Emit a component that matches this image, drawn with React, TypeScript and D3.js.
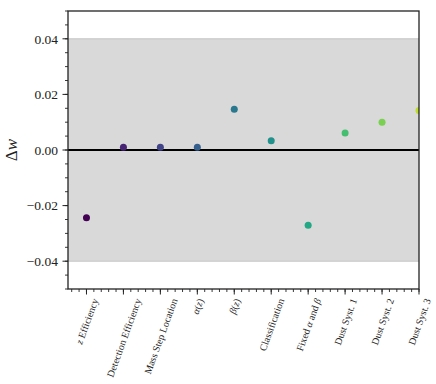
import React, { useRef, useEffect } from 'react';
import * as d3 from 'd3';

// categories (label parts: [text, italic])
const categories: [string, boolean][][] = [
  [['z', true], [' Efficiency', false]],
  [['Detection Efficiency', false]],
  [['Mass Step Location', false]],
  [['α', true], ['(', false], ['z', true], [')', false]],
  [['β', true], ['(', false], ['z', true], [')', false]],
  [['Classification', false]],
  [['Fixed ', false], ['α', true], [' and ', false], ['β', true]],
  [['Dust Syst. 1', false]],
  [['Dust Syst. 2', false]],
  [['Dust Syst. 3', false]],
];
const deltaW = [-0.0244, 0.001, 0.001, 0.001, 0.0147, 0.0033, -0.0271, 0.0061, 0.01, 0.0142];
const yMajorTicks = [-0.04, -0.02, 0, 0.02, 0.04];
const bandLimits = [-0.04, 0.04];

const W = 436;
const H = 384;
const FONT = "'Liberation Serif', 'DejaVu Serif', serif";

const App = () => {
  const ref = useRef<SVGSVGElement>(null);

  useEffect(() => {
    const svg = d3.select(ref.current);
    svg.selectAll('*').remove();

    const m = { left: 68, right: 17, top: 11, bottom: 95 };
    const x = d3.scaleLinear().domain([-0.5, 9]).range([m.left, W - m.right]);
    const y = d3.scaleLinear().domain([-0.05, 0.05]).range([H - m.bottom, m.top]);
    const [x0, x1] = x.range();
    const [yb, yt] = y.range();

    svg.append('defs').append('clipPath').attr('id', 'plotclip')
      .append('rect').attr('x', x0).attr('y', yt).attr('width', x1 - x0).attr('height', yb - yt);

    // shaded band
    svg.append('rect')
      .attr('x', x0).attr('width', x1 - x0)
      .attr('y', y(bandLimits[1])).attr('height', y(bandLimits[0]) - y(bandLimits[1]))
      .attr('fill', '#d9d9d9');
    bandLimits.forEach(v => {
      svg.append('line').attr('x1', x0).attr('x2', x1).attr('y1', y(v)).attr('y2', y(v))
        .attr('stroke', '#c4c4c4').attr('stroke-width', 1);
    });

    // zero line
    svg.append('line').attr('x1', x0).attr('x2', x1).attr('y1', y(0)).attr('y2', y(0))
      .attr('stroke', '#000').attr('stroke-width', 2);

    // points
    svg.append('g').attr('clip-path', 'url(#plotclip)')
      .selectAll('circle').data(deltaW).join('circle')
      .attr('cx', (d, i) => x(i)).attr('cy', d => y(d)).attr('r', 3.5)
      .attr('fill', (d, i) => d3.interpolateViridis(i / 10));

    // spines
    svg.append('rect').attr('x', x0).attr('y', yt).attr('width', x1 - x0).attr('height', yb - yt)
      .attr('fill', 'none').attr('stroke', '#222').attr('stroke-width', 1.3);

    // y ticks
    const yMinor = d3.range(-0.05, 0.0501, 0.005);
    svg.append('g').selectAll('line').data(yMinor).join('line')
      .attr('x1', x0).attr('x2', x0 - 3).attr('y1', d => y(d)).attr('y2', d => y(d))
      .attr('stroke', '#222').attr('stroke-width', 0.9);
    svg.append('g').selectAll('line').data(yMajorTicks).join('line')
      .attr('x1', x0).attr('x2', x0 - 5.5).attr('y1', d => y(d)).attr('y2', d => y(d))
      .attr('stroke', '#222').attr('stroke-width', 1);
    svg.append('g').selectAll('text').data(yMajorTicks).join('text')
      .attr('x', x0 - 10).attr('y', d => y(d)).attr('dy', '0.35em')
      .attr('text-anchor', 'end').style('font-family', FONT).attr('font-size', 13.5)
      .attr('fill', '#222')
      .text(d => (d < 0 ? '\u2212' : '') + Math.abs(d).toFixed(2));

    // y label
    const yl = svg.append('text')
      .attr('transform', `translate(17,${y(0)}) rotate(-90)`)
      .attr('text-anchor', 'middle').style('font-family', FONT).attr('font-size', 17)
      .attr('fill', '#222');
    yl.append('tspan').text('Δ');
    yl.append('tspan').attr('font-style', 'italic').text('w');

    // x ticks
    const xMinor = d3.range(-0.4, 9.01, 0.2);
    svg.append('g').selectAll('line').data(xMinor).join('line')
      .attr('x1', d => x(d)).attr('x2', d => x(d)).attr('y1', yb).attr('y2', yb + 3)
      .attr('stroke', '#222').attr('stroke-width', 0.9);
    svg.append('g').selectAll('line').data(d3.range(categories.length)).join('line')
      .attr('x1', d => x(d)).attr('x2', d => x(d)).attr('y1', yb).attr('y2', yb + 5.5)
      .attr('stroke', '#222').attr('stroke-width', 1);

    const ang = 70 * Math.PI / 180;
    const fs = 10;
    categories.forEach((parts, i) => {
      const t = svg.append('text')
        .attr('text-anchor', 'middle').attr('dominant-baseline', 'central')
        .style('font-family', FONT).attr('font-size', fs).attr('fill', '#222');
      parts.forEach(([s, it]) => {
        t.append('tspan').attr('font-style', it ? 'italic' : 'normal').text(s);
      });
      const w = (t.node() as SVGTextElement).getComputedTextLength();
      const bh = w * Math.sin(ang) + fs * Math.cos(ang);
      const cy = yb + 8 + bh / 2;
      t.attr('transform', `translate(${x(i)},${cy}) rotate(-70)`);
    });
  }, []);

  return (
    <svg ref={ref} width={W} height={H} style={{ position: 'absolute', left: 0, top: 0, background: '#fff' }} />
  );
};

export default App;
